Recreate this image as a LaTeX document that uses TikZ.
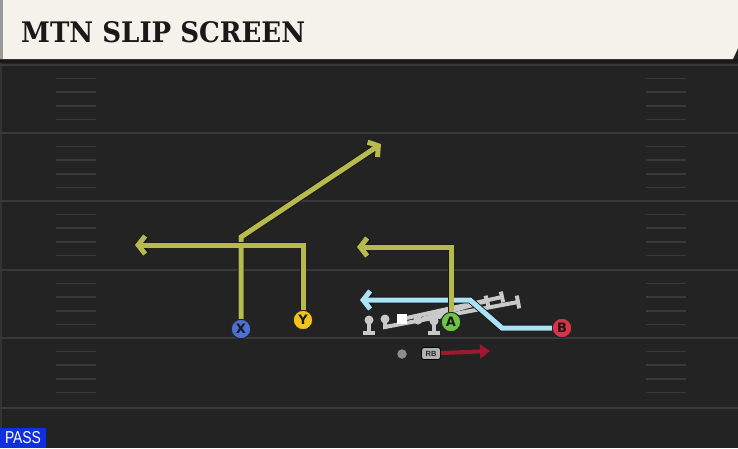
\documentclass[tikz,border=0pt]{standalone}
\usepackage{graphicx}
\usepackage{fontspec}
\setsansfont{DejaVu Sans}
\newfontfamily\titlefont{DejaVu Serif}
\newfontfamily\tagfont{Liberation Sans}
\usetikzlibrary{arrows.meta, calc, positioning}
\definecolor{fieldgray}{HTML}{232323}
\definecolor{headercream}{HTML}{F5F2EB}
\definecolor{yardgray}{HTML}{393939}
\definecolor{routeolive}{HTML}{B7BA4D}
\definecolor{slipblue}{HTML}{A9E3F5}
\definecolor{runred}{HTML}{A3172E}
\definecolor{blockgray}{HTML}{C9C9C9}
\definecolor{xblue}{HTML}{4C70D4}
\definecolor{yyellow}{HTML}{F2C41B}
\definecolor{agreen}{HTML}{6DC446}
\definecolor{bred}{HTML}{DA3346}
\definecolor{passblue}{HTML}{1030E0}

\begin{document}
\begin{tikzpicture}[x=1pt, y=-1pt,
  yard/.style={draw=yardgray, line width=2pt},
  hash/.style={draw=yardgray, line width=1.5pt},
  player/.style={circle, draw=black!85, line width=1pt, minimum size=19.5pt, inner sep=0pt, text=black!90, font=\sffamily\bfseries\fontsize{13}{13}\selectfont},
  route/.style={draw=routeolive, line width=5pt, -{Straight Barb[length=7pt, width=18pt]}, preaction={draw=black!90, line width=6.8pt}},
  slip/.style={route, draw=slipblue},
  run/.style={draw=runred, line width=4pt, -{Triangle[length=10pt, width=14pt]}},
  lineman/.style={circle, fill=blockgray, minimum size=9pt, inner sep=0pt},
  snapbox/.style={rectangle, fill=white, minimum size=9.5pt, inner sep=0pt},
  blockstem/.style={draw=blockgray, line width=4.5pt},
  blockbar/.style={draw=blockgray, line width=4pt},
  slide/.style={draw=blockgray, line width=4pt},
  qbdot/.style={circle, fill=black!45, minimum size=9.5pt, inner sep=0pt},
  rbtag/.style={rectangle, rounded corners=2.5pt, fill=black!30, draw=black, line width=0.8pt, minimum width=19pt, minimum height=12pt, inner sep=0pt, font=\tagfont\bfseries\fontsize{7.5}{7.5}\selectfont, text=black!85}]
\useasboundingbox (0,0) rectangle (738,448);
\fill[fieldgray] (0,0) rectangle (738,448);
\fill[black!90] (0,59) rectangle (738,63);
\fill[headercream] (0,0) -- (738,0) -- (738,48) -- (733,59) -- (0,59) -- cycle;
\fill[black!40] (0,0) rectangle (3,59);
\fill[black!80] (0,63) rectangle (2,448);
\foreach \y in {65,133,201,270,338,408}
  \draw[yard] (0,\y) -- (738,\y);
\foreach \y in {65,133,201,270,338}
  \foreach \k in {1,2,3,4} {
    \draw[hash] (56,\y+13.6*\k) -- (96,\y+13.6*\k);
    \draw[hash] (646,\y+13.6*\k) -- (686,\y+13.6*\k);
  }
\node[anchor=west, inner sep=0pt, text=black!90] (title) at (21,32.5) {\resizebox{284pt}{21pt}{\titlefont\bfseries MTN SLIP SCREEN}};
\fill[passblue] (0,428) rectangle (46,448);
\node[inner sep=0pt, text=white] (pass) at (23,438) {\resizebox{36pt}{12pt}{\tagfont PASS}};

\node[lineman] (LT) at (369,320) {};
\coordinate (LTfoot) at (369,333);
\draw[blockstem] (LT.center) -- (LTfoot);
\draw[blockbar] ($(LTfoot)+(-6,0)$) -- ($(LTfoot)+(6,0)$);
\node[lineman] (LG) at (385,319) {};
\coordinate (LGdrop) at (385,327);
\coordinate (LGend) at (518,302);
\draw[slide] (LG.center) -- (LGdrop) -- (LGend);
\draw[slide] ($(LGend)!6.5pt!90:(LGdrop)$) -- ($(LGend)!6.5pt!-90:(LGdrop)$);
\node[snapbox] (C) at (402,319) {};
\coordinate (Cend) at (502,297);
\draw[slide] (C) -- (Cend);
\draw[slide] ($(Cend)!5.5pt!90:(C)$) -- ($(Cend)!5.5pt!-90:(C)$);
\node[lineman] (RG) at (418,320) {};
\coordinate (RGend) at (487,301);
\draw[slide] (RG) -- (RGend);
\draw[slide] ($(RGend)!5.5pt!90:(RG)$) -- ($(RGend)!5.5pt!-90:(RG)$);
\node[lineman] (RT) at (434,321) {};
\coordinate (RTfoot) at (434,333);
\draw[blockstem] (RT.center) -- (RTfoot);
\draw[blockbar] ($(RTfoot)+(-6,0)$) -- ($(RTfoot)+(6,0)$);

\node[player, fill=xblue] (X) at (241,329) {X};
\node[player, fill=yyellow] (Y) at (303,320) {Y};
\node[player, fill=agreen] (A) at (451,322) {A};
\node[player, fill=bred] (B) at (562,328) {B};
\node[qbdot] (QB) at (402,354) {};
\node[rbtag] (RB) at (431,353.5) {RB};

\coordinate (Bcut) at (502,328);
\coordinate (Bturn) at (470,300);
\coordinate (Bend) at (360,300);
\draw[slip] (B) -- (Bcut) -- (Bturn) -- (Bend);
\coordinate (Xbreak) at (241,237);
\coordinate (Xend) at (381,144);
\draw[route] (X) -- (Xbreak) -- (Xend);
\coordinate (Ycorner) at (303,245);
\coordinate (Yend) at (135,245);
\draw[route] (Y) -- (Ycorner) -- (Yend);
\coordinate (Acorner) at (451,247);
\coordinate (Aend) at (357,247);
\draw[route] (A) -- (Acorner) -- (Aend);
\coordinate (RBend) at (490,351);
\draw[run] (RB) -- (RBend);
\end{tikzpicture}
\end{document}
